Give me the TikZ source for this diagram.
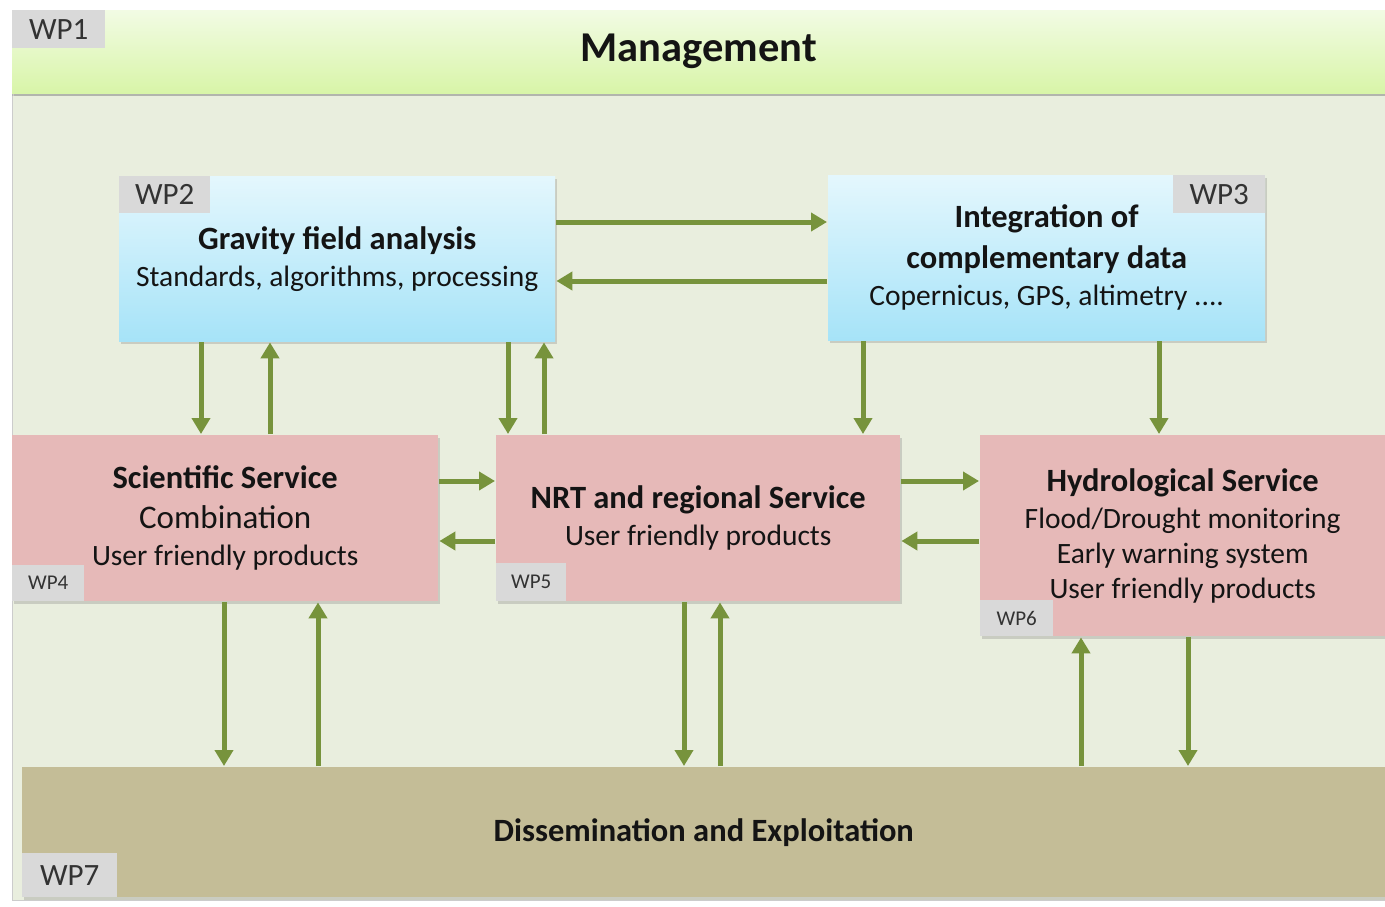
\documentclass[tikz,border=0pt]{standalone}
\usepackage{fontspec}
\setmainfont{Carlito}
\usetikzlibrary{arrows.meta,shadows}
\definecolor{flowgreen}{RGB}{119,147,60}
\definecolor{panelbg}{RGB}{233,238,222}
\definecolor{mgmttop}{RGB}{242,251,228}
\definecolor{mgmtbot}{RGB}{216,245,168}
\definecolor{bluetop}{RGB}{228,247,253}
\definecolor{bluebot}{RGB}{166,227,248}
\definecolor{pinkfill}{RGB}{230,185,184}
\definecolor{tanfill}{RGB}{196,189,151}
\definecolor{taggrey}{RGB}{217,217,217}
\newcommand\wptitle{\fontsize{32.5}{37}\selectfont\bfseries}
\begin{document}
\begin{tikzpicture}[x=1pt,y=-1pt,
	wpbox/.style={inner sep=0pt, align=center, anchor=north west, text=black!92,
		font=\fontsize{29.5}{37}\selectfont,
		drop shadow={shadow xshift=2pt, shadow yshift=-2.5pt, opacity=0.3}},
	bluebox/.style={wpbox, top color=bluetop, bottom color=bluebot},
	pinkbox/.style={wpbox, fill=pinkfill},
	tag/.style={fill=taggrey, inner sep=0pt, text=black!80, font=\fontsize{31}{31}\selectfont},
	smalltag/.style={tag, font=\fontsize{21}{21}\selectfont},
	flow/.style={draw=flowgreen, line width=5pt, shorten >=1pt, shorten <=1pt,
		-{Triangle[width=18pt,length=16pt]}}]
	\useasboundingbox (0,0) rectangle (1385,907);
	\draw[fill=panelbg, draw=black!20] (12,10) rectangle (1385,900);
	\node[wpbox, top color=mgmttop, bottom color=mgmtbot, minimum width=1373pt, minimum height=83pt,
		drop shadow={shadow xshift=0pt, shadow yshift=-2.5pt, opacity=0.3},
		font=\fontsize{42.5}{42.5}\selectfont\bfseries] (wp1) at (12,10) {Management};
	\node[tag, anchor=north west, minimum width=93pt, minimum height=38pt] (t1) at (wp1.north west) {WP1};
	\node[bluebox, minimum width=436pt, minimum height=165pt] (wp2) at (119,176)
		{{\wptitle Gravity field analysis}\\Standards, algorithms, processing};
	\node[tag, anchor=north west, minimum width=91pt, minimum height=37pt] (t2) at (wp2.north west) {WP2};
	\node[bluebox, minimum width=437pt, minimum height=165pt] (wp3) at (828,175)
		{{\wptitle Integration of}\\[4pt]{\wptitle complementary data}\\Copernicus, GPS, altimetry ....};
	\node[tag, anchor=north east, minimum width=92pt, minimum height=38pt] (t3) at (wp3.north east) {WP3};
	\node[pinkbox, minimum width=426pt, minimum height=166pt] (wp4) at (12,435)
		{{\wptitle Scientific Service}\\[3pt]{\fontsize{33}{37}\selectfont Combination}\\User friendly products};
	\node[smalltag, anchor=south west, minimum width=72pt, minimum height=36pt] (t4) at (wp4.south west) {WP4};
	\node[pinkbox, minimum width=404pt, minimum height=166pt] (wp5) at (496,435)
		{{\wptitle NRT and regional Service}\\User friendly products};
	\node[smalltag, anchor=south west, minimum width=70pt, minimum height=38pt] (t5) at (wp5.south west) {WP5};
	\node[pinkbox, minimum width=405pt, minimum height=201pt] (wp6) at (980,435)
		{{\wptitle Hydrological Service}\\Flood/Drought monitoring\\[-2pt]Early warning system\\[-2pt]User friendly products};
	\node[smalltag, anchor=south west, minimum width=73pt, minimum height=36pt] (t6) at (wp6.south west) {WP6};
	\node[wpbox, fill=tanfill, minimum width=1363pt, minimum height=130pt] (wp7) at (22,767)
		{{\wptitle Dissemination and Exploitation}};
	\node[tag, anchor=south west, minimum width=95pt, minimum height=44pt] (t7) at (wp7.south west) {WP7};
	\draw[flow] (wp2.east |- 0,222) -- (wp3.west |- 0,222);
	\draw[flow] (wp3.west |- 0,281) -- (wp2.east |- 0,281);
	\draw[flow] (wp2.south -| 201,0) -- (wp4.north -| 201,0);
	\draw[flow] (wp4.north -| 270,0) -- (wp2.south -| 270,0);
	\draw[flow] (wp2.south -| 508,0) -- (wp5.north -| 508,0);
	\draw[flow] (wp5.north -| 544,0) -- (wp2.south -| 544,0);
	\draw[flow] (wp3.south -| 863,0) -- (wp5.north -| 863,0);
	\draw[flow] (wp3.south -| 1159,0) -- (wp6.north -| 1159,0);
	\draw[flow] (wp4.east |- 0,481) -- (wp5.west |- 0,481);
	\draw[flow] (wp5.west |- 0,541) -- (wp4.east |- 0,541);
	\draw[flow] (wp5.east |- 0,481) -- (wp6.west |- 0,481);
	\draw[flow] (wp6.west |- 0,541) -- (wp5.east |- 0,541);
	\draw[flow] (wp4.south -| 224,0) -- (wp7.north -| 224,0);
	\draw[flow] (wp7.north -| 318,0) -- (wp4.south -| 318,0);
	\draw[flow] (wp5.south -| 684,0) -- (wp7.north -| 684,0);
	\draw[flow] (wp7.north -| 720,0) -- (wp5.south -| 720,0);
	\draw[flow] (wp7.north -| 1081,0) -- (wp6.south -| 1081,0);
	\draw[flow] (wp6.south -| 1188,0) -- (wp7.north -| 1188,0);
\end{tikzpicture}
\end{document}
